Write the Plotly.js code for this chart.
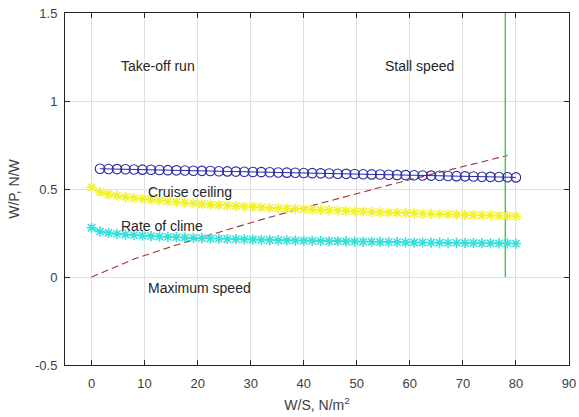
<!DOCTYPE html>
<html>
<head>
<meta charset="utf-8">
<script src="https://cdn.plot.ly/plotly-3.0.1.min.js"></script>
<style>html,body{margin:0;padding:0;background:#fff;}#chart{width:579px;height:417px;}</style>
</head>
<body>
<div id="chart"></div>
<script>
// W/S grid (N/m^2)
const ws = [0,1.6,3.2,4.8,6.4,8,9.6,11.2,12.8,14.4,16,17.6,19.2,20.8,22.4,24,25.6,27.2,28.8,30.4,32,33.6,35.2,36.8,38.4,40,41.6,43.2,44.8,46.4,48,49.6,51.2,52.8,54.4,56,57.6,59.2,60.8,62.4,64,65.6,67.2,68.8,70.4,72,73.6,75.2,76.8,78.4,80];

// Take-off run (blue circles), starts at second grid point
const wsTakeoff = ws.slice(1);
const takeoffRun = [0.615,0.614,0.613,0.612,0.611,0.610,0.609,0.608,0.607,0.606,0.605,0.604,0.603,0.602,0.601,0.600,0.599,0.598,0.597,0.596,0.595,0.594,0.593,0.592,0.591,0.590,0.589,0.588,0.587,0.586,0.585,0.584,0.583,0.582,0.581,0.580,0.579,0.578,0.577,0.576,0.575,0.574,0.573,0.572,0.571,0.570,0.569,0.568,0.567,0.566];

// Cruise ceiling (yellow stars)
const cruiseCeiling = [0.510,0.482,0.470,0.462,0.455,0.449,0.444,0.439,0.434,0.430,0.426,0.422,0.418,0.415,0.412,0.409,0.406,0.403,0.400,0.398,0.395,0.393,0.391,0.389,0.387,0.385,0.383,0.381,0.379,0.377,0.375,0.373,0.372,0.370,0.368,0.366,0.365,0.363,0.362,0.360,0.359,0.357,0.356,0.355,0.353,0.352,0.351,0.350,0.348,0.347,0.346];

// Rate of climb (cyan stars)
const rateOfClimb = [0.280,0.258,0.250,0.245,0.241,0.238,0.235,0.232,0.230,0.228,0.226,0.224,0.222,0.221,0.219,0.218,0.216,0.215,0.214,0.213,0.211,0.210,0.209,0.208,0.207,0.206,0.205,0.204,0.203,0.203,0.202,0.201,0.200,0.200,0.199,0.198,0.198,0.197,0.196,0.196,0.195,0.195,0.194,0.194,0.193,0.193,0.192,0.192,0.191,0.191,0.190];

// Maximum speed (dashed)
const wsMax = [0,8,16,24,32,40,48,56,64,72,78.4];
const maxSpeed = [0,0.102,0.182,0.256,0.326,0.393,0.458,0.522,0.583,0.644,0.690];

// Stall speed (vertical line)
const wsStall = [78,78];
const stallY = [0,1.5];

const xTicks = [0,10,20,30,40,50,60,70,80,90];
const yTicks = [-0.5,0,0.5,1,1.5];
const yTickText = ['-0.5','0','0.5','1','1.5'];

const labels = [
  {text:'Take-off run', x:5.2, y:1.2},
  {text:'Stall speed', x:55, y:1.2},
  {text:'Cruise ceiling', x:10.2, y:0.485},
  {text:'Rate of clime', x:5.2, y:0.29},
  {text:'Maximum speed', x:10.2, y:-0.063}
];

const font = 'Liberation Sans, Arial, sans-serif';
const traces = [
  {x:wsMax, y:maxSpeed, mode:'lines', line:{color:'#a8303a', width:1.1, dash:'7px,4px'}, hoverinfo:'skip'},
  {x:wsStall, y:stallY, mode:'lines', line:{color:'#44cc44', width:1.5}},
  {x:wsTakeoff, y:takeoffRun, mode:'lines+markers', line:{color:'#2b2ba6', width:1},
   marker:{symbol:'circle-open', size:9.5, color:'#2b2ba6', line:{width:1.1}}},
  {x:ws, y:cruiseCeiling, mode:'lines+markers', line:{color:'#f2f22a', width:1.3},
   marker:{symbol:'asterisk-open', size:8.5, color:'#f2f22a', line:{width:1.6, color:'#f2f22a'}}},
  {x:ws, y:rateOfClimb, mode:'lines+markers', line:{color:'#38e0dc', width:1.3},
   marker:{symbol:'asterisk-open', size:8.5, color:'#38e0dc', line:{width:1.6, color:'#38e0dc'}}}
];

const axisCommon = {
  showline:true, linecolor:'#262626', linewidth:1, mirror:'ticks',
  ticks:'inside', ticklen:5, tickcolor:'#262626', tickwidth:1,
  showgrid:true, gridcolor:'#e0e0e0', gridwidth:1, zeroline:false,
  tickfont:{family:font, size:13, color:'#404040'}
};

const layout = {
  width:579, height:417,
  margin:{l:65, r:10, t:13, b:52},
  paper_bgcolor:'#ffffff', plot_bgcolor:'#ffffff',
  showlegend:false,
  xaxis:Object.assign({}, axisCommon, {
    range:[-5,90], tickvals:xTicks, ticktext:xTicks.map(String),
    ticklabelstandoff:6,
    title:{text:'W/S, N/m<sup>2</sup>', font:{family:font, size:14, color:'#404040'}, standoff:10}
  }),
  yaxis:Object.assign({}, axisCommon, {
    range:[-0.5,1.5], tickvals:yTicks, ticktext:yTickText,
    ticklabelstandoff:4,
    title:{text:'W/P, N/W', font:{family:font, size:14, color:'#404040'}, standoff:12}
  }),
  annotations: labels.map(l => ({
    x:l.x, y:l.y, xref:'x', yref:'y', text:l.text, showarrow:false,
    xanchor:'left', yanchor:'middle', font:{family:font, size:14, color:'#262626'}
  }))
};

Plotly.newPlot('chart', traces, layout, {displayModeBar:false, staticPlot:true});
</script>
</body>
</html>
